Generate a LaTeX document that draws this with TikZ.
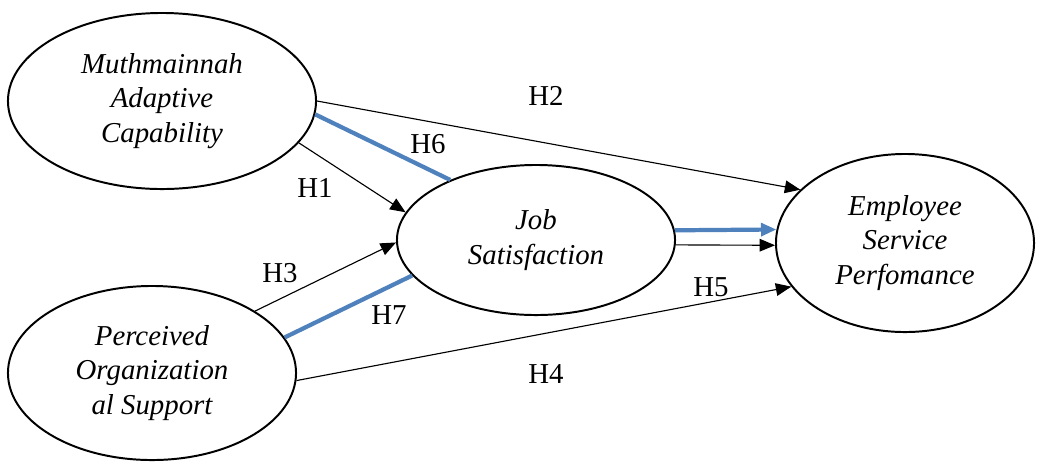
\documentclass[tikz,border=0pt]{standalone}
\usepackage{fontspec}
\setmainfont{Liberation Serif}
\usetikzlibrary{shapes.geometric,arrows.meta}
\definecolor{medblue}{RGB}{79,129,189}
\tikzset{
var/.style={ellipse,draw,line width=1.4pt,inner sep=0pt,align=center,
  font=\fontsize{20.5}{24.8}\selectfont\itshape},
effect/.style={line width=0.8pt,-{Triangle[length=11pt,width=9pt]}},
mediation/.style={medblue,line width=3pt},
hyp/.style={font=\fontsize{20.5}{24}\selectfont}
}
\begin{document}
\begin{tikzpicture}[x=0.025cm,y=-0.025cm]
\useasboundingbox (0,0) rectangle (1043,463);
\node[var,minimum width=7.7cm,minimum height=4.4cm] (mac) at (162,101)
{Muthmainnah\\ Adaptive\\ Capability};
\node[var,minimum width=6.95cm,minimum height=3.75cm] (js) at (536,240)
{Job\\ Satisfaction};
\node[var,minimum width=6.45cm,minimum height=4.45cm] (esp) at (905,243)
{Employee\\ Service\\ Perfomance};
\node[var,minimum width=7.2cm,minimum height=4.35cm] (pos) at (152,373)
{Perceived\\ Organization\\ al Support};
\draw[effect] (mac.0) -- (esp.153);
\draw[effect] (mac.-17) -- (js.168);
\draw[mediation] (mac.-5) -- (js.145);
\draw[effect] (pos.31) -- (js.181);
\draw[mediation] (pos.15) -- (js.196);
\draw[effect] (pos.-3.6) -- (esp.201);
\draw[mediation,-{Triangle[length=11pt,width=9pt]}] (js.4.5) -- (esp.174);
\draw[effect] (js.-2.1) -- (esp.181);
\node[hyp] (h2) at (546,96) {H2};
\node[hyp] (h6) at (428,144) {H6};
\node[hyp] (h1) at (315,188) {H1};
\node[hyp] (h3) at (280,273) {H3};
\node[hyp] (h7) at (389,315) {H7};
\node[hyp] (h5) at (711,287) {H5};
\node[hyp] (h4) at (546,374) {H4};
\end{tikzpicture}
\end{document}
